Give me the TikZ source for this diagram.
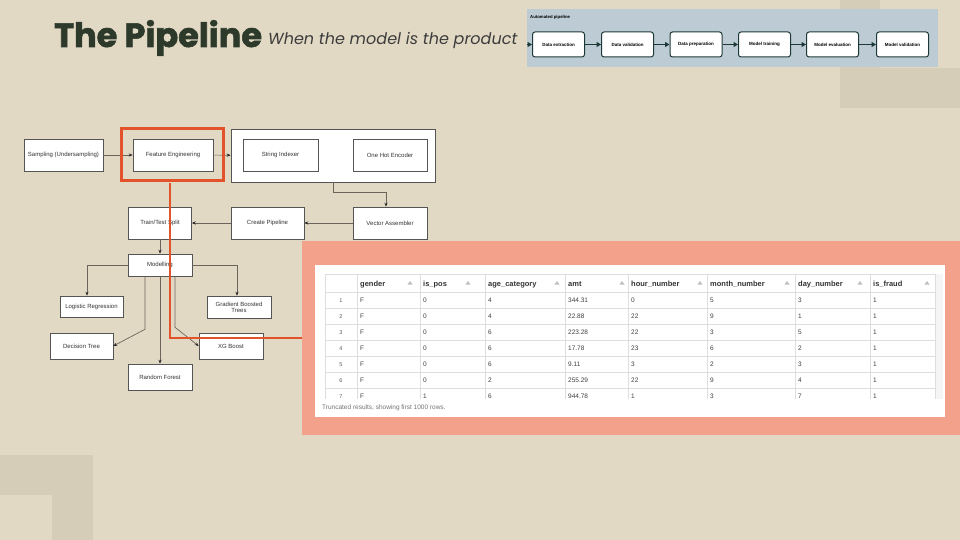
\documentclass[tikz,border=0pt]{standalone}
\usepackage{fontspec}
\setmainfont{Liberation Sans}
\newfontfamily\titlefont{Poppins}
\newfontfamily\titleheavy{Poppins}[FakeBold=1.6]
\usetikzlibrary{arrows.meta}
\definecolor{bgbeige}{HTML}{E2D9C5}
\definecolor{decobeige}{HTML}{D6CDB9}
\definecolor{titlegreen}{HTML}{2D3A2B}
\definecolor{subgray}{HTML}{3C3C3C}
\definecolor{hilite}{HTML}{E2532C}
\definecolor{salmon}{HTML}{F3A18B}
\definecolor{pipeblue}{HTML}{BDCCD4}
\definecolor{pipedark}{HTML}{1D3836}
\definecolor{flowline}{HTML}{6B645B}
\definecolor{boxgray}{HTML}{555555}
\definecolor{gridgray}{HTML}{DEDEDE}
\newcommand{\fsz}[1]{\fontsize{#1}{#1}\selectfont}
\begin{document}
\begin{tikzpicture}[x=1pt,y=-1pt,
  flowbox/.style={draw=boxgray, line width=0.6pt, fill=white, inner sep=0pt,
    font=\fsz{6}, text=black!80, align=center},
  flowarr/.style={draw=flowline, line width=0.7pt,
    -{Stealth[length=4pt,width=3.2pt,color=black!85]}},
  pipebox/.style={draw=pipedark, line width=1pt, fill=white, rounded corners=2.5pt,
    minimum width=52pt, minimum height=25pt, inner sep=0pt, font=\bfseries\fsz{4.5}},
  pipearr/.style={draw=pipedark, line width=1.2pt, -{Triangle[length=4.5pt,width=5pt]}},
  headtxt/.style={anchor=base west, inner sep=0pt, font=\bfseries\fsz{7.5}, text=black!80},
  celltxt/.style={anchor=base west, inner sep=0pt, font=\fsz{6.5}, text=black!75},
  idxtxt/.style={anchor=base, inner sep=0pt, font=\fsz{5.5}, text=black!65},
  sorttri/.style={fill=black!25, draw=none}
]
% page and background corner decorations
\useasboundingbox (0,0) rectangle (960,540);
\fill[bgbeige] (0,0) rectangle (960,540);
\fill[decobeige] (840,0) rectangle (960,108);
\fill[bgbeige] (880,0) rectangle (960,68);
\fill[decobeige] (0,455) rectangle (93,540);
\fill[bgbeige] (0,495) rectangle (52,540);

% heading
\node[anchor=base west, inner sep=0pt, text=titlegreen, font=\titleheavy\bfseries\fsz{33.6}]
  (title) at (54,47) {The Pipeline};
\node[anchor=base west, inner sep=0pt, text=subgray, font=\titlefont\itshape\fsz{16}]
  (subtitle) at (268,45) {When the model is the product};

% automated pipeline strip
\node[fill=pipeblue, minimum width=411pt, minimum height=58pt, inner sep=0pt]
  (strip) at (732.5,38) {};
\node[anchor=west, inner sep=0pt, font=\bfseries\fsz{4.3}] (striplabel) at (530,17) {Automated pipeline};
\node[pipebox] (p1) at (558.5,44.5) {Data extraction};
\node[pipebox] (p2) at (627.5,44.5) {Data validation};
\node[pipebox] (p3) at (696,44.5) {Data preparation};
\node[pipebox] (p4) at (764.5,44.5) {Model training};
\node[pipebox] (p5) at (832.5,44.5) {Model evaluation};
\node[pipebox] (p6) at (902.5,44.5) {Model validation};
\coordinate (pstart) at (527,44.5);
\draw[pipearr] (pstart) -- (p1.west);
\draw[pipearr] (p1) -- (p2);
\draw[pipearr] (p2) -- (p3);
\draw[pipearr] (p3) -- (p4);
\draw[pipearr] (p4) -- (p5);
\draw[pipearr] (p5) -- (p6);

% flowchart
\node[flowbox, minimum width=79pt, minimum height=32pt] (samp) at (63.5,155) {Sampling (Undersampling)};
\node[flowbox, minimum width=80pt, minimum height=32pt] (fe) at (173,155) {Feature Engineering};
\node[flowbox, minimum width=204pt, minimum height=53pt] (enc) at (333,155.5) {};
\node[flowbox, minimum width=75pt, minimum height=32pt] (si) at (280.5,155) {String Indexer};
\node[flowbox, minimum width=74pt, minimum height=32pt] (ohe) at (390,155) {One Hot Encoder};
\node[flowbox, minimum width=74pt, minimum height=32pt] (va) at (390,223) {Vector Assembler};
\node[flowbox, minimum width=73pt, minimum height=32pt] (cp) at (267.5,223) {Create Pipeline};
\node[flowbox, minimum width=63pt, minimum height=32pt] (tts) at (160,223) {Train/Test Split};
\node[flowbox, minimum width=64pt, minimum height=22pt] (mod) at (160,265) {Modelling};
\node[flowbox, minimum width=63pt, minimum height=21pt] (lr) at (91.5,306.5) {Logistic Regression};
\node[flowbox, minimum width=64pt, minimum height=22pt] (gbt) at (239,307) {Gradient Boosted\\Trees};
\node[flowbox, minimum width=63pt, minimum height=26pt] (dt) at (81.5,346) {Decision Tree};
\node[flowbox, minimum width=64pt, minimum height=26pt] (xg) at (231,346) {XG Boost};
\node[flowbox, minimum width=64pt, minimum height=26pt] (rf) at (160,377) {Random Forest};

\draw[flowarr] (samp) -- (fe);
\draw[flowarr] (fe) -- (enc);
\draw[flowarr] (enc.south) -- ++(0,10) -| ([xshift=-4pt]va.north);
\draw[flowarr] (va) -- (cp);
\draw[flowarr] (cp) -- (tts);
\draw[flowarr] (tts) -- (mod);
\draw[flowarr] (mod.west) -| ([xshift=-4.5pt]lr.north);
\draw[flowarr] (mod.east) -| ([xshift=-2pt]gbt.north);
\draw[flowarr] ([xshift=-15pt]mod.south) -- ++(0,53) -- (dt.east);
\draw[flowarr] (mod.south) -- (rf.north);
\draw[flowarr] ([xshift=15pt]mod.south) -- ++(0,51) -- (xg.west);

% sample output table
\node[fill=salmon, minimum width=658pt, minimum height=194pt, inner sep=0pt] (frame) at (631,338) {};
\node[fill=white, minimum width=630pt, minimum height=152pt, inner sep=0pt] (panel) at (630,341) {};

% highlight of the feature engineering step and its link to the table
\node[draw=hilite, line width=3pt, minimum width=102pt, minimum height=52pt, inner sep=0pt]
  (hl) at (172,155) {};
\coordinate (hlturn) at (170,338);
\draw[hilite, line width=2pt] (hl.south -| hlturn) -- (hlturn) -- (hlturn -| frame.west);

\begin{scope}
  \clip (315,265) rectangle (945,399);
  \fill[black!4] (935,274) rectangle (943,399);
  % grid
  \foreach \yy in {274,292,308,324,340,356,372,388}
    \draw[gridgray, line width=0.5pt] (325,\yy) -- (935,\yy);
  \foreach \xx in {325,357,420,485,565,628,707,795,870,935}
    \draw[gridgray, line width=0.5pt] (\xx,274) -- (\xx,399);
  % header
  \foreach \xs/\name/\ax [count=\c] in {357/gender/410, 420/is\_pos/468,
      485/age\_category/557, 565/amt/622, 628/hour\_number/700,
      707/month\_number/787, 795/day\_number/860, 870/is\_fraud/927} {
    \node[headtxt] (head\c) at (\xs+3,286) {\name};
    \fill[sorttri] (\ax-2.5,284.5) -- (\ax+2.5,284.5) -- (\ax,281) -- cycle;
  }
  % rows
  \foreach \row [count=\r] in {{F,0,4,344.31,0,5,3,1},{F,0,4,22.88,22,9,1,1},
      {F,0,6,223.28,22,3,5,1},{F,0,6,17.78,23,6,2,1},{F,0,6,9.11,3,2,3,1},
      {F,0,2,255.29,22,9,4,1},{F,1,6,944.78,1,3,7,1}} {
    \pgfmathsetmacro{\ry}{302.4+16*(\r-1)}
    \node[idxtxt] (idx\r) at (341,\ry) {\r};
    \foreach \v [count=\c] in \row {
      \pgfmathsetmacro{\cx}{{357,420,485,565,628,707,795,870}[\c-1]+3}
      \node[celltxt] (cell\r-\c) at (\cx,\ry) {\v};
    }
  }
\end{scope}
\node[anchor=west, inner sep=0pt, font=\fsz{6.5}, text=black!55] (trunc) at (322,408)
  {Truncated results, showing first 1000 rows.};
\end{tikzpicture}
\end{document}
